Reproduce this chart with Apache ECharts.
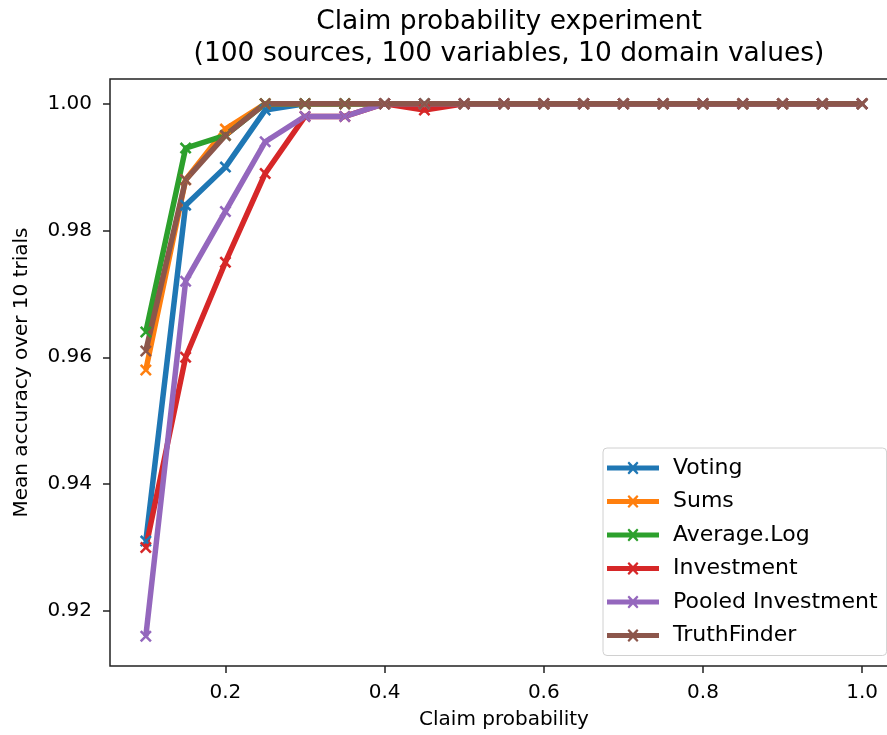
<!DOCTYPE html>
<html>
<head>
<meta charset="utf-8">
<script src="https://cdn.jsdelivr.net/npm/echarts@6/dist/echarts.min.js"></script>
<style>
  html, body { margin: 0; padding: 0; background: #fff; }
  #main { width: 887px; height: 735px; }
</style>
</head>
<body>
<div id="main"></div>
<script>
// claim probability (x)
const claimProb = [0.1, 0.15, 0.2, 0.25, 0.3, 0.35, 0.4, 0.45, 0.5, 0.55, 0.6, 0.65, 0.7, 0.75, 0.8, 0.85, 0.9, 0.95, 1.0];

// mean accuracy per method
const voting      = [0.931, 0.984, 0.990, 0.999, 1, 1, 1, 1, 1, 1, 1, 1, 1, 1, 1, 1, 1, 1, 1];
const sums        = [0.958, 0.988, 0.996, 1, 1, 1, 1, 1, 1, 1, 1, 1, 1, 1, 1, 1, 1, 1, 1];
const averageLog  = [0.964, 0.993, 0.995, 1, 1, 1, 1, 1, 1, 1, 1, 1, 1, 1, 1, 1, 1, 1, 1];
const investment  = [0.930, 0.960, 0.975, 0.989, 0.998, 0.998, 1, 0.999, 1, 1, 1, 1, 1, 1, 1, 1, 1, 1, 1];
const pooled      = [0.916, 0.972, 0.983, 0.994, 0.998, 0.998, 1, 1, 1, 1, 1, 1, 1, 1, 1, 1, 1, 1, 1];
const truthFinder = [0.961, 0.988, 0.995, 1, 1, 1, 1, 1, 1, 1, 1, 1, 1, 1, 1, 1, 1, 1, 1];

const xTicks = [0.2, 0.4, 0.6, 0.8, 1.0];
const yTicks = [0.92, 0.94, 0.96, 0.98, 1.00];

const methods = [
    { name: 'Voting', data: voting, color: '#1f77b4' },
    { name: 'Sums', data: sums, color: '#ff7f0e' },
    { name: 'Average.Log', data: averageLog, color: '#2ca02c' },
    { name: 'Investment', data: investment, color: '#d62728' },
    { name: 'Pooled Investment', data: pooled, color: '#9467bd' },
    { name: 'TruthFinder', data: truthFinder, color: '#8c564b' }
];

const FONT = 'DejaVu Sans';
// filled "x" marker
const xMarker = 'path://M0,1.5L1.5,0L5,3.5L8.5,0L10,1.5L6.5,5L10,8.5L8.5,10L5,6.5L1.5,10L0,8.5L3.5,5Z';
// legend handle: thick line with an x in the middle
const legendIcon = 'path://M0,4.5L52,4.5L52,9.5L0,9.5Z M20.5,2L22,0.5L26,4.5L30,0.5L31.5,2L27.5,7L31.5,12L30,13.5L26,9.5L22,13.5L20.5,12L24.5,7Z';

const series = methods.map(function (m) {
    return {
        name: m.name,
        type: 'line',
        data: claimProb.map(function (x, i) { return [x, m.data[i]]; }),
        symbol: xMarker,
        symbolSize: 12,
        showAllSymbol: true,
        lineStyle: { width: 5.5, color: m.color },
        itemStyle: { color: m.color },
        emphasis: { disabled: true },
        animation: false
    };
});

const chart = echarts.init(document.getElementById('main'));
chart.setOption({
    animation: false,
    title: {
        text: 'Claim probability experiment\n(100 sources, 100 variables, 10 domain values)',
        left: 504,
        top: 1,
        textAlign: 'center',
        textStyle: { fontFamily: FONT, fontSize: 26.5, fontWeight: 'normal', color: '#000', lineHeight: 32 }
    },
    grid: {
        left: 110, right: -11, top: 79, bottom: 69,
        outerBoundsMode: 'none',
        containLabel: false,
        show: true, borderColor: '#222', borderWidth: 1.5, backgroundColor: 'transparent'
    },
    legend: {
        orient: 'vertical',
        left: 603,
        top: 448,
        padding: [9, 9, 9, 4],
        itemGap: 11.5,
        itemWidth: 52,
        itemHeight: 14,
        icon: legendIcon,
        backgroundColor: 'rgba(255,255,255,0.8)',
        borderColor: '#d0d0d0',
        borderWidth: 1,
        borderRadius: 4,
        textStyle: { fontFamily: FONT, fontSize: 22, color: '#000', padding: [0, 0, 0, 9] },
        data: methods.map(function (m) { return m.name; })
    },
    xAxis: {
        type: 'value',
        min: 0.055,
        max: 1.045,
        name: 'Claim probability',
        nameLocation: 'middle',
        nameGap: 44,
        nameTextStyle: { fontFamily: FONT, fontSize: 20, color: '#000' },
        axisLine: { show: false },
        axisTick: { show: true, customValues: xTicks, length: 7, lineStyle: { color: '#222', width: 1.5 } },
        axisLabel: {
            customValues: xTicks, margin: 17,
            fontFamily: FONT, fontSize: 20, color: '#000',
            formatter: function (v) { return v.toFixed(1); }
        },
        splitLine: { show: false }
    },
    yAxis: {
        type: 'value',
        min: 0.9113,
        max: 1.0039,
        name: 'Mean accuracy over 10 trials',
        nameLocation: 'middle',
        nameGap: 78,
        nameTextStyle: { fontFamily: FONT, fontSize: 20, color: '#000' },
        axisLine: { show: false },
        axisTick: { show: true, customValues: yTicks, length: 7, lineStyle: { color: '#222', width: 1.5 } },
        axisLabel: {
            customValues: yTicks, margin: 18,
            fontFamily: FONT, fontSize: 20, color: '#000',
            formatter: function (v) { return v.toFixed(2); }
        },
        splitLine: { show: false }
    },
    series: series
});
</script>
</body>
</html>
